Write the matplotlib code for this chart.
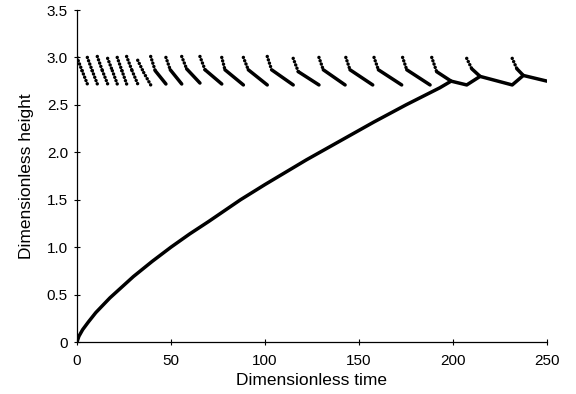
import matplotlib
matplotlib.use("Agg")
import matplotlib.pyplot as plt
import numpy as np

# lower branch (rising curve, then merged wiggle at the end)
low_t = [0, 1, 3, 6, 10, 17.5, 30, 40, 50, 60, 70, 87, 100, 122, 140, 158, 175,
         193, 199, 207.3, 214.4, 231.5, 237.4, 250]
low_h = [0, 0.06, 0.13, 0.21, 0.31, 0.465, 0.69, 0.85, 1.00, 1.14, 1.27, 1.50,
         1.66, 1.92, 2.12, 2.32, 2.50, 2.68, 2.75, 2.71, 2.80, 2.71, 2.81, 2.75]

# upper sawtooth segments: start (h=start_h), kink, end
seg_start_t = [0, 5.5, 10.8, 16.3, 21.4, 26.4, 32.3, 39.2, 47.3, 55.7, 65.4,
               77.0, 88.5, 101.2, 115.0, 128.7, 143.0, 158.0, 173.2, 188.7,
               207.3, 231.5]
seg_start_h = [3.0, 3.0, 3.01, 2.99, 3.0, 3.01, 2.97, 3.01, 3.0, 3.01, 3.01,
               3.0, 3.0, 3.01, 2.99, 3.0, 3.0, 3.0, 3.0, 3.0, 2.99, 2.99]
seg_kink_t = [2.7, 8.1, 13.5, 18.8, 23.9, 29.3, 35.5, 41.6, 49.6, 58.3, 68.1,
              78.7, 91.1, 103.5, 117.7, 131.0, 145.2, 160.3, 175.4, 191.3,
              210.0, 234.0]
seg_kink_h = [2.86, 2.86, 2.86, 2.86, 2.86, 2.86, 2.84, 2.86, 2.87, 2.88, 2.87,
              2.87, 2.87, 2.87, 2.85, 2.87, 2.87, 2.87, 2.87, 2.85, 2.88, 2.88]
seg_end_t = [5.5, 10.8, 16.3, 21.4, 26.4, 32.3, 39.2, 47.3, 55.7, 65.4, 77.0,
             88.5, 101.2, 115.0, 128.7, 142.6, 157.3, 172.7, 187.8, 199.0,
             214.4, 237.4]
seg_end_h = [2.72, 2.72, 2.72, 2.72, 2.72, 2.72, 2.71, 2.72, 2.72, 2.73, 2.72,
             2.71, 2.71, 2.71, 2.71, 2.71, 2.71, 2.71, 2.71, 2.75, 2.80, 2.81]

plt.rcParams["font.family"] = ["Liberation Sans", "DejaVu Sans"]

fig = plt.figure(figsize=(5.76, 3.94), dpi=100)
ax = fig.add_axes([77 / 576, 1 - 342 / 394, 470 / 576, 332 / 394])

beads = dict(color="black", lw=2.5, linestyle=(0, (0.01, 1.0)),
             dash_capstyle="round")
solid = dict(color="black", lw=2.5, solid_capstyle="round")

ax.plot(low_t, low_h, **solid)

for i in range(len(seg_start_t)):
    ax.plot([seg_start_t[i], seg_kink_t[i]], [seg_start_h[i], seg_kink_h[i]], **beads)
    # steep tail parts look beaded too, flat ones look solid
    slope = (seg_kink_h[i] - seg_end_h[i]) / (seg_end_t[i] - seg_kink_t[i])
    style = beads if slope > 0.035 else solid
    ax.plot([seg_kink_t[i], seg_end_t[i]], [seg_kink_h[i], seg_end_h[i]], **style)

ax.set_xlim(0, 250)
ax.set_ylim(0, 3.5)
ax.set_xticks([0, 50, 100, 150, 200, 250])
ax.set_yticks([0, 0.5, 1.0, 1.5, 2.0, 2.5, 3.0, 3.5])
ax.set_yticklabels(["0", "0.5", "1.0", "1.5", "2.0", "2.5", "3.0", "3.5"])
ax.spines["top"].set_visible(False)
ax.spines["right"].set_visible(False)
for s in ("left", "bottom"):
    ax.spines[s].set_linewidth(0.9)
ax.tick_params(direction="inout", length=5, width=0.8, labelsize=11)
ax.tick_params(axis="x", pad=6)
ax.tick_params(axis="y", pad=4)
ax.set_xlabel("Dimensionless time", fontsize=12.5, labelpad=4)
ax.set_ylabel("Dimensionless height", fontsize=12.5, labelpad=9)

plt.savefig("out.png", dpi=100)
plt.close()
